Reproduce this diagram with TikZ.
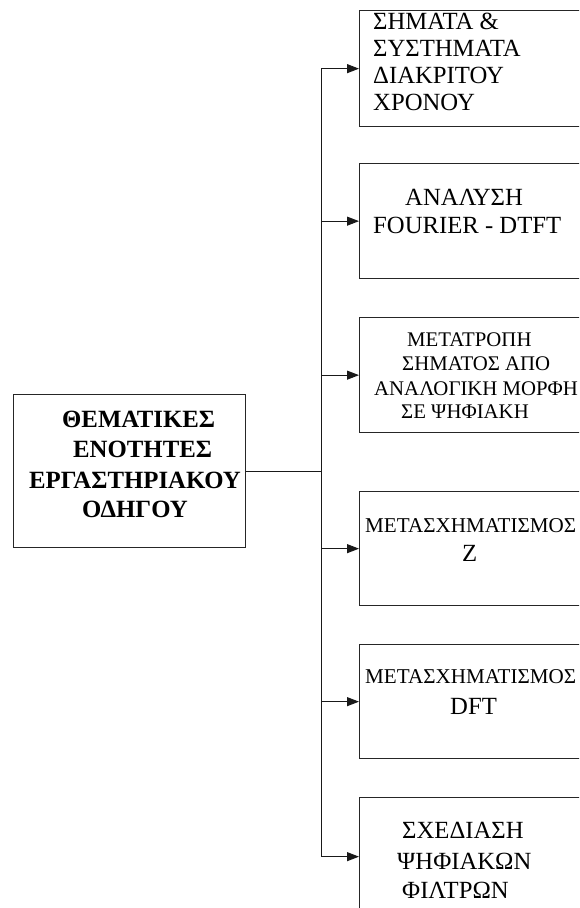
\documentclass[tikz,border=0pt]{standalone}
\usepackage{fontspec}
\setmainfont{Liberation Serif}
\usetikzlibrary{arrows.meta}
\begin{document}
\begin{tikzpicture}[x=1pt,y=-1pt,
  box/.style={draw=black!85, line width=1.3pt, minimum width=300pt, anchor=north west, inner sep=0pt},
  conn/.style={draw=black!90, line width=1pt},
  arr/.style={conn, -{Triangle[length=12pt,width=9pt]}},
  lbl/.style={anchor=base west, inner sep=0pt, font=\fontsize{24.7}{27}\selectfont},
  lblm/.style={anchor=base west, inner sep=0pt, font=\fontsize{21.1}{27}\selectfont},
  lbls/.style={anchor=base west, inner sep=0pt, font=\fontsize{20.8}{24}\selectfont},
  lblb/.style={anchor=base west, inner sep=0pt, font=\bfseries\fontsize{24.8}{30}\selectfont}
]
\useasboundingbox[fill=white] (0,0) rectangle (579,908);
\clip (0,0) rectangle (579,908);
% main box
\node[box, minimum width=232pt, minimum height=153pt] (main) at (13,394) {};
\node[lblb] (m1) at (62,427) {ΘΕΜΑΤΙΚΕΣ};
\node[lblb] (m2) at (73,457) {ΕΝΟΤΗΤΕΣ};
\node[lblb] (m3) at (29,488) {ΕΡΓΑΣΤΗΡΙΑΚΟΥ};
\node[lblb] (m4) at (82,517) {ΟΔΗΓΟΥ};
% right boxes
\node[box, minimum height=116pt] (b1) at (359,10) {};
\node[box, minimum height=115pt] (b2) at (359,163) {};
\node[box, minimum height=115pt] (b3) at (359,317) {};
\node[box, minimum height=114pt] (b4) at (359,491) {};
\node[box, minimum height=114pt] (b5) at (359,644) {};
\node[box, minimum height=118pt] (b6) at (359,797) {};
% texts
\node[lbl] (t1a) at (373,29) {ΣΗΜΑΤΑ \&};
\node[lbl] (t1b) at (373,56) {ΣΥΣΤΗΜΑΤΑ};
\node[lbl] (t1c) at (373,83) {ΔΙΑΚΡΙΤΟΥ};
\node[lbl] (t1d) at (373,110) {ΧΡΟΝΟΥ};
\node[lbl] (t2a) at (405,205) {ΑΝΑΛΥΣΗ};
\node[lbl] (t2b) at (373,233) {FOURIER - DTFT};
\node[lbls] (t3a) at (407,346) {ΜΕΤΑΤΡΟΠΗ};
\node[lbls] (t3b) at (402,370) {ΣΗΜΑΤΟΣ ΑΠΟ};
\node[lbls] (t3c) at (374,395) {ΑΝΑΛΟΓΙΚΗ ΜΟΡΦΗ};
\node[lbls] (t3d) at (401,418) {ΣΕ ΨΗΦΙΑΚΗ};
\node[lblm] (t4a) at (365,532) {ΜΕΤΑΣΧΗΜΑΤΙΣΜΟΣ};
\node[lbl] (t4b) at (462,561) {Z};
\node[lblm] (t5a) at (365,683) {ΜΕΤΑΣΧΗΜΑΤΙΣΜΟΣ};
\node[lbl] (t5b) at (450,714) {DFT};
\node[lbl] (t6a) at (402,838) {ΣΧΕΔΙΑΣΗ};
\node[lbl] (t6b) at (397,869) {ΨΗΦΙΑΚΩΝ};
\node[lbl] (t6c) at (402,898) {ΦΙΛΤΡΩΝ};
% connectors
\coordinate (tr) at (321,470);
\draw[conn] (main.east) -- (main.east -| tr);
\draw[conn] (b1.west -| tr) -- (b6.west -| tr);
\foreach \b in {b1,b2,b3,b4,b5,b6}
  \draw[arr] (\b.west -| tr) -- (\b.west);
\end{tikzpicture}
\end{document}
